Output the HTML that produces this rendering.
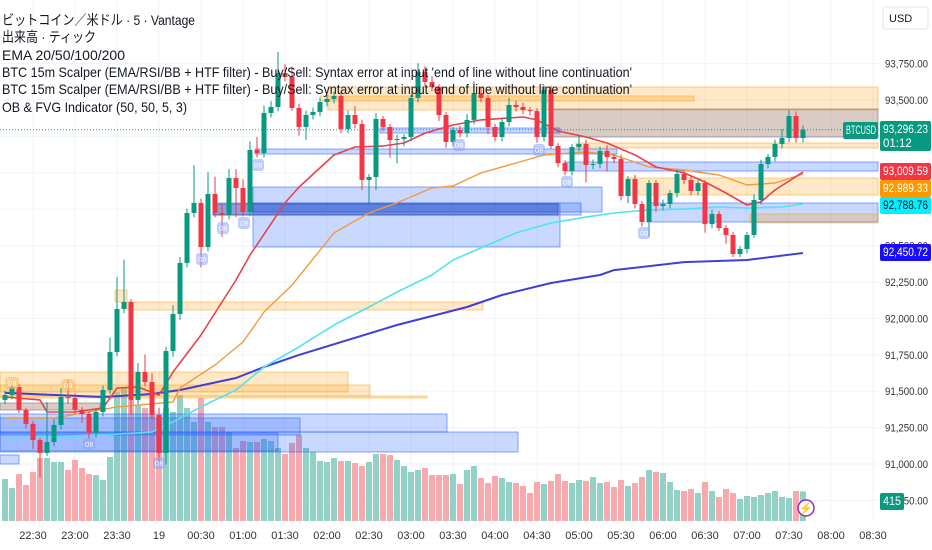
<!DOCTYPE html>
<html><head><meta charset="utf-8"><style>
html,body{margin:0;padding:0;background:#fff;}
svg{display:block;font-family:"Liberation Sans","Noto Sans CJK JP",sans-serif;}
</style></head><body>
<svg id="chart" width="932" height="550" viewBox="0 0 932 550" xmlns="http://www.w3.org/2000/svg">
<g id="grid"></g>
<g id="vol"></g>
<g id="boxes"></g>
<g id="emas"></g>
<g id="candles"></g>
<g id="obl"></g>
<g id="axis"></g>
<g fill="#131722" font-size="14">
<text x="2" y="25" textLength="193" lengthAdjust="spacingAndGlyphs">ビットコイン／米ドル · 5 · Vantage</text>
<text x="2" y="42" textLength="94" lengthAdjust="spacingAndGlyphs">出来高 · ティック</text>
<text x="2" y="60" textLength="123" lengthAdjust="spacingAndGlyphs">EMA 20/50/100/200</text>
<text x="2" y="77" textLength="630" lengthAdjust="spacingAndGlyphs">BTC 15m Scalper (EMA/RSI/BB + HTF filter) - Buy/Sell: Syntax error at input 'end of line without line continuation'</text>
<text x="2" y="94" textLength="630" lengthAdjust="spacingAndGlyphs">BTC 15m Scalper (EMA/RSI/BB + HTF filter) - Buy/Sell: Syntax error at input 'end of line without line continuation'</text>
<text x="2" y="112" textLength="185" lengthAdjust="spacingAndGlyphs">OB &amp; FVG Indicator (50, 50, 5, 3)</text>
</g>
</svg>
<script>
const closes=[91474,91529,91371,91275,91165,91076,91151,91268,91460,91453,91371,91343,91213,91357,91508,91769,92065,92113,91440,91632,91563,91337,91076,91776,92030,92381,92724,92793,92490,92854,92724,92710,92964,92896,92731,93157,93136,93411,93452,93685,93658,93445,93315,93397,93418,93486,93507,93527,93301,93397,93335,92951,92971,93370,93315,93225,93232,93246,93514,93692,93624,93589,93397,93212,93294,93273,93363,93548,93514,93315,93246,93349,93466,93452,93431,93424,93246,93569,93184,93067,93012,93177,93198,93054,93061,93150,93109,93095,92841,92957,92786,92662,92930,92772,92786,92861,92992,92951,92875,92930,92648,92717,92621,92573,92442,92477,92573,92813,93060,93109,93198,93239,93390,93239,93296];
const firstOpen=91440;
const wickUp=[30,40,20,15,20,15,275,40,60,120,30,20,20,20,30,100,220,290,20,60,120,60,50,30,60,40,30,260,30,150,120,60,60,60,60,60,90,50,40,145,60,70,30,30,30,30,30,30,30,30,60,30,20,40,20,20,30,20,20,60,40,40,20,20,20,30,40,80,40,20,20,30,50,30,30,20,20,30,30,20,20,20,60,30,30,30,40,20,30,20,30,20,20,20,30,20,30,20,30,20,20,30,20,20,20,20,20,40,30,20,30,60,40,30,30];
const wickDn=[30,30,20,30,60,170,20,30,30,40,30,60,40,30,30,30,30,30,100,30,30,30,80,80,40,40,30,30,140,30,30,150,30,200,30,30,30,30,30,30,30,20,60,90,30,30,30,30,30,30,30,70,160,90,30,120,160,50,30,30,30,30,40,40,30,30,30,30,30,50,30,30,30,30,30,30,40,30,20,30,30,30,30,120,30,30,100,30,30,50,30,30,100,40,30,30,30,30,30,30,60,30,20,60,20,20,30,20,30,30,30,30,30,30,30];
const volumes=[588,462,658,504,686,882,882,826,826,714,854,742,658,644,574,896,1806,1862,1694,1624,1582,1484,1442,1582,1526,1764,1582,1386,1722,1386,1316,1316,1246,1022,1120,1106,1106,1148,1120,1022,938,1092,1204,1022,966,840,826,882,840,840,812,770,826,938,938,924,854,770,686,714,742,644,644,644,658,518,714,770,602,532,630,602,546,532,490,392,546,518,560,658,560,532,574,560,616,532,546,476,574,490,532,616,714,686,672,546,434,420,448,392,546,420,336,448,392,308,350,336,364,392,420,336,322,420,415];
const ema20Idx=[0,5,6,10,14,16,19,22,24,28,33,35,40,42,47,50,54,57,60,64,68,74,76,79,83,86,90,93,97,100,103,106,108,110,114];
const ema20Val=[91460,91440,91357,91357,91385,91522,91529,91474,91632,91886,92264,92435,92793,92902,93122,93177,93184,93205,93273,93328,93363,93383,93363,93287,93246,93205,93122,93040,92999,92937,92861,92779,92800,92882,93005];
const ema50Idx=[0,7,16,24,25,30,34,37,41,47,52,56,61,64,68,73,77,83,87,92,97,102,106,110,114];
const ema50Val=[91316,91316,91392,91426,91522,91680,91838,92044,92229,92587,92724,92793,92896,92909,92999,93067,93122,93143,93122,93040,93019,92985,92916,92930,92992];
const ema100Idx=[0,14,21,24,28,33,37,42,47,52,56,61,64,68,73,78,83,87,92,97,102,106,111,114];
const ema100Val=[91179,91199,91220,91289,91392,91508,91666,91804,91955,92078,92181,92298,92401,92484,92587,92655,92696,92724,92745,92751,92765,92758,92765,92786];
const ema200Idx=[0,14,21,25,33,37,42,49,56,66,71,78,85,87,97,106,114];
const ema200Val=[91488,91460,91481,91508,91591,91666,91749,91852,91955,92078,92161,92243,92298,92332,92387,92401,92449];
const priceTicks=[93750,93500,93250,93000,92750,92500,92250,92000,91750,91500,91250,91000,90750];
const priceTickLabels=["93,750.00","93,500.00","","","","92,500.00","92,250.00","92,000.00","91,750.00","91,500.00","91,250.00","91,000.00","90,750.00"];
const timeLabels=["22:30","23:00","23:30","19","00:30","01:00","01:30","02:00","02:30","03:00","03:30","04:00","04:30","05:00","05:30","06:00","06:30","07:00","07:30","08:00","08:30"];
const timeLabelIdx=[4,10,16,22,28,34,40,46,52,58,64,70,76,82,88,94,100,106,112,118,124];

const NS="http://www.w3.org/2000/svg";
function yP(p){return 100+(93500-p)/250*36.4;}
function xI(i){return 5+7*i;}
function yV(v){return 521-v/14;}
function mk(tag,attrs,parent){const e=document.createElementNS(NS,tag);for(const k in attrs)e.setAttribute(k,attrs[k]);parent.appendChild(e);return e;}
const G=id=>document.getElementById(id);
const CW=879;

const grid=G('grid');
priceTicks.forEach(p=>{const l=mk('line',{x1:0,x2:CW,y1:yP(p),y2:yP(p),stroke:'#f0f3fa','stroke-width':1},grid);

});
timeLabelIdx.forEach(i=>{const l=mk('line',{x1:xI(i),x2:xI(i),y1:0,y2:521,stroke:'#f0f3fa','stroke-width':1},grid);

});

const vol=G('vol');
closes.forEach((c,i)=>{const o=i?closes[i-1]:firstOpen;const up=c>=o;const y=yV(volumes[i]);
const r=mk('rect',{x:xI(i)-3,y:y,width:6,height:521-y,fill:up?'#92d2c6':'#f7a9ae'},vol);

});

const boxes=G('boxes');
const OR=['rgba(255,152,0,0.22)','rgba(255,152,0,0.45)'],BL=['rgba(41,98,255,0.25)','rgba(41,98,255,0.55)'],GR=['rgba(150,110,90,0.35)','rgba(120,120,140,0.6)'],DB=['rgba(30,60,160,0.35)','rgba(30,60,160,0.5)'];
const zones=[
[328,87,878,110,OR],[320,96,694,101,OR],[553,109,878,137,GR],[380,128,560,133,BL],
[255,149,617,154,BL],[576,143,878,148,OR],[566,162,878,171,BL],[626,178,878,195,OR],
[253,187,602,212,BL],[253,203,560,247,BL],[213,203,581,215,BL],[213,204,558,215,DB],
[647,203,878,222,BL],[750,214,878,223,OR],[115,290,127,302,OR],
[0,372,348,392,OR],[0,385,370,396,OR],[0,396,427,398,OR],[127,302,483,310,OR],
[0,403,100,410,GR],[0,414,447,432,BL],[0,432,518,452,BL],[0,418,300,435,BL],[0,433,278,451,BL],[0,455,19,464,BL]];
zones.forEach(z=>{const r=mk('rect',{x:z[0],y:z[1],width:z[2]-z[0],height:z[3]-z[1],fill:z[4][0],stroke:z[4][1],'stroke-width':1},boxes);

});
const pl=mk('line',{x1:0,x2:CW,y1:yP(93296),y2:yP(93296),stroke:'#089981','stroke-width':1,'stroke-dasharray':'1,2'},boxes);



const emas=G('emas');
function line(idx,val,color,name,w){let d='';idx.forEach((i,k)=>{d+=(k?'L':'M')+xI(i)+','+yP(val[k]).toFixed(1);});
const p=mk('path',{d:d,fill:'none',stroke:color,'stroke-width':w,'stroke-linejoin':'round'},emas);

}
line(ema200Idx,ema200Val,'#3f3fd8','ema-200',2);
line(ema100Idx,ema100Val,'#50e3f0','ema-100',1.6);
line(ema50Idx,ema50Val,'#f39a3c','ema-50',1.4);
line(ema20Idx,ema20Val,'#e8424a','ema-20',1.6);

const cg=G('candles');
closes.forEach((c,i)=>{const o=i?closes[i-1]:firstOpen;const up=c>=o;const col=up?'#089981':'#f23645';
const hi=Math.max(o,c)+wickUp[i],lo=Math.min(o,c)-wickDn[i];const x=xI(i);
const w=mk('line',{x1:x,x2:x,y1:yP(hi),y2:yP(lo),stroke:col,'stroke-width':1},cg);


const yt=yP(Math.max(o,c)),yb=yP(Math.min(o,c));
const b=mk('rect',{x:x-2.5,y:yt,width:5,height:Math.max(1,yb-yt),fill:col},cg);

});

const obl=G('obl');
[[258,165],[223,228],[244,223],[202,259],[459,145],[539,150],[567,182],[644,233],[89,444],[159,463]].forEach(p=>{
const r=mk('rect',{x:p[0]-6,y:p[1]-6,width:12,height:12,rx:3,fill:'rgba(140,165,255,0.55)'},obl);


const t=mk('text',{x:p[0],y:p[1]+2.5,'font-size':6,'text-anchor':'middle',fill:'#fff'},obl);t.textContent='OB';});
[[68,385],[12,383]].forEach(p=>{const r=mk('rect',{x:p[0]-7,y:p[1]-6,width:14,height:12,rx:3,fill:'rgba(255,190,110,0.6)'},obl);


const t=mk('text',{x:p[0],y:p[1]+2.5,'font-size':6,'text-anchor':'middle',fill:'#fff'},obl);t.textContent='OB';});

const ax=G('axis');
priceTicks.forEach((p,k)=>{if(!priceTickLabels[k])return;const t=mk('text',{x:885,y:yP(p)+4,'font-size':11,textLength:43,lengthAdjust:'spacingAndGlyphs',fill:'#333'},ax);t.textContent=priceTickLabels[k];

});
timeLabels.forEach((s,k)=>{const t=mk('text',{x:xI(timeLabelIdx[k]),y:539,'font-size':11,'text-anchor':'middle',fill:'#333'},ax);t.textContent=s;

});
const usd=mk('rect',{x:883,y:7,width:45,height:22,rx:3,fill:'#fff',stroke:'#e0e3eb'},ax);


const ut=mk('text',{x:889,y:22,'font-size':11,fill:'#131722'},ax);ut.textContent='USD';
function tag(x,y,w,h,bg,fg,txt,name,tl){const r=mk('rect',{x:x,y:y,width:w,height:h,rx:2,fill:bg},ax);


const lines=txt.split('|');lines.forEach((s,k)=>{const a={x:x+3,y:y+12+k*14,'font-size':11.5,fill:fg};if(tl&&tl[k]){a.textLength=tl[k];a.lengthAdjust='spacingAndGlyphs';}const t=mk('text',a,ax);t.textContent=s;});}
tag(843,122,35,17,'#089981','#fff','BTCUSD','symbol-tag',[30]);
tag(880,121,51,30,'#089981','#fff','93,296.23|01:12','last-price-tag',[45,0]);
tag(880,163,51,17,'#f23645','#fff','93,009.59','ema20-tag',[45]);
tag(880,180,51,17,'#ff9800','#fff','92,989.33','ema50-tag',[45]);
tag(880,197,51,17,'#00f0ff','#131722','92,788.76','ema100-tag',[45]);
tag(880,244,51,17,'#1a0dff','#fff','92,450.72','ema200-tag',[45]);
tag(880,493,24,17,'#089981','#fff','415','volume-tag',[18]);
const lc=mk('circle',{cx:806,cy:508,r:8,fill:'#fff',stroke:'#9c27b0','stroke-width':1.5},ax);


const lt=mk('text',{x:806,y:512,'font-size':11,'text-anchor':'middle',fill:'#9c27b0'},ax);lt.textContent='⚡';
</script>
</body></html>
